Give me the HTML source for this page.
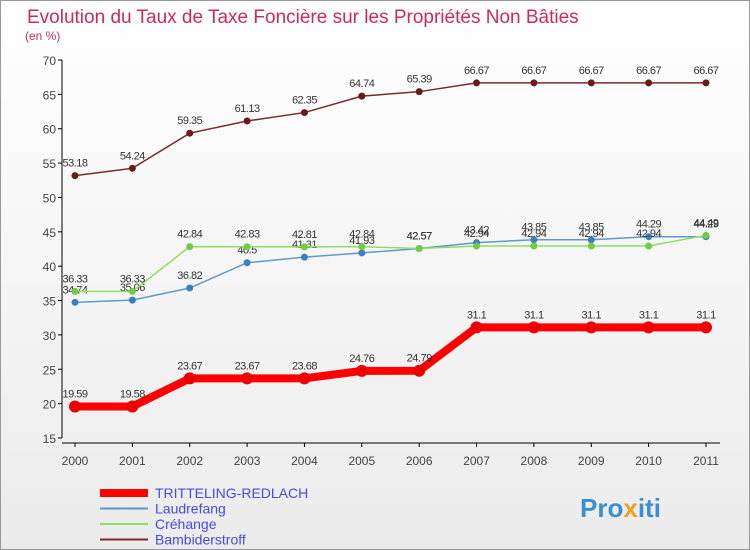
<!DOCTYPE html>
<html><head><meta charset="utf-8"><style>
body{margin:0;background:#fff}
svg{display:block;font-family:"Liberation Sans",sans-serif}
</style></head><body>
<svg id="c" width="750" height="550">
<defs><linearGradient id="bg" x1="0" y1="0" x2="0" y2="1"><stop offset="0" stop-color="#ffffff"/><stop offset="1" stop-color="#ebebeb"/></linearGradient></defs>
<rect x="0.5" y="0.5" width="749" height="549" fill="url(#bg)" stroke="#999"/>
<text x="27" y="23" font-size="19" fill="#cc2a5f">Evolution du Taux de Taxe Foncière sur les Propriétés Non Bâties</text>
<text x="25" y="40" font-size="12" fill="#cc2a5f">(en %)</text>
<g id="axes"></g><g id="series"></g><g id="legend"></g>
<text x="580" y="517" font-size="26" font-weight="bold" fill="#3a8fd0">Pro<tspan fill="#f0a020">x</tspan>iti</text>
</svg>
<script>
const years=["2000","2001","2002","2003","2004","2005","2006","2007","2008","2009","2010","2011"];
const yTicks=[15,20,25,30,35,40,45,50,55,60,65,70];
const tritteling=[19.59,19.58,23.67,23.67,23.68,24.76,24.79,31.1,31.1,31.1,31.1,31.1];
const laudrefang=[34.74,35.06,36.82,40.5,41.31,41.93,42.57,43.42,43.85,43.85,44.29,44.29];
const crehange=[36.33,36.33,42.84,42.83,42.81,42.84,42.57,42.94,42.94,42.94,42.94,44.49];
const bambiderstroff=[53.18,54.24,59.35,61.13,62.35,64.74,65.39,66.67,66.67,66.67,66.67,66.67];
const NS="http://www.w3.org/2000/svg";
function mk(t,a,p){const e=document.createElementNS(NS,t);for(const k in a)e.setAttribute(k,a[k]);p.appendChild(e);return e;}
const X=i=>75+i*(706-75)/(years.length-1);
const Y=v=>438-(v-15)*(378/55);
const ax=document.getElementById('axes');
let yl=mk('line',{x1:62,y1:Y(70),x2:62,y2:Y(15),stroke:'#000'},ax);


let xl=mk('line',{x1:62,y1:Y(15)+5,x2:720,y2:Y(15)+5,stroke:'#000'},ax);


yTicks.forEach(v=>{
 let t=mk('text',{x:56,y:Y(v)+5,'font-size':12,fill:'#444','text-anchor':'end'},ax);t.textContent=v;
 
 
 mk('line',{x1:58,y1:Y(v),x2:62,y2:Y(v),stroke:'#000'},ax);
});
years.forEach((y,i)=>{
 let t=mk('text',{x:X(i),y:465,'font-size':12,fill:'#444','text-anchor':'middle'},ax);t.textContent=y;
 
 
 mk('line',{x1:X(i),y1:Y(15)+5,x2:X(i),y2:Y(15)+9,stroke:'#000'},ax);
});
const ser=[
 {n:'Bambiderstroff',d:bambiderstroff,c:'#7a2a2a',f:'#6a1a1a',w:1.5,r:3.5},
 {n:'Laudrefang',d:laudrefang,c:'#5b9ad0',f:'#3a80c0',w:1.5,r:3.5},
 {n:'Créhange',d:crehange,c:'#90dd60',f:'#70cc40',w:1.5,r:3.5},
 {n:'TRITTELING-REDLACH',d:tritteling,c:'#ff0000',f:'#ee0000',w:8,r:6}
];
const sg=document.getElementById('series');
ser.forEach(s=>{
 let p=mk('polyline',{points:s.d.map((v,i)=>X(i)+','+Y(v)).join(' '),fill:'none',stroke:s.c,'stroke-width':s.w},sg);
 
 
 s.d.forEach((v,i)=>{
  let c=mk('circle',{cx:X(i),cy:Y(v),r:s.r,fill:s.f},sg);
  
  
  let t=mk('text',{x:X(i),y:Y(v)-9,'font-size':11,fill:'#333','text-anchor':'middle','letter-spacing':'-0.5'},sg);
  t.textContent=String(v).replace('.','.');
  
  
 });
});
const lg=document.getElementById('legend');
const leg=[['TRITTELING-REDLACH','#ff0000',8],['Laudrefang','#5b9ad0',2],['Créhange','#90dd60',2],['Bambiderstroff','#7a2a2a',2]];
leg.forEach((l,i)=>{
 const y=493+i*15.5;
 let ln=mk('line',{x1:100,y1:y,x2:148,y2:y,stroke:l[1],'stroke-width':l[2]},lg);
 
 
 let t=mk('text',{x:155,y:y+5,'font-size':14,fill:'#4a4ae0'},lg);t.textContent=l[0];
 
 
});
</script>
</body></html>
